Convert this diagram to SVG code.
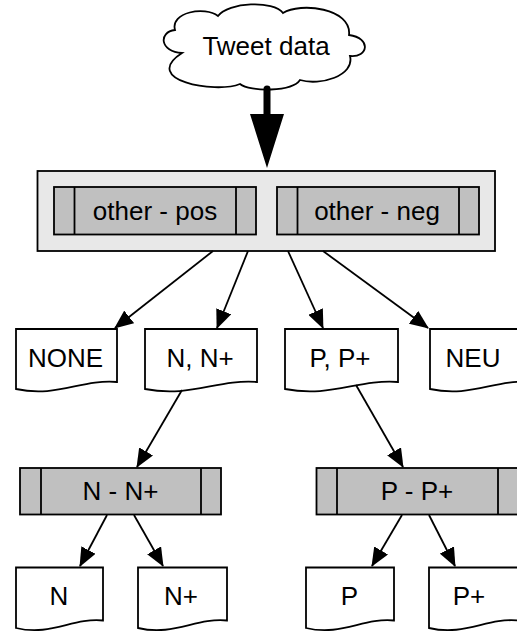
<svg xmlns="http://www.w3.org/2000/svg" width="517" height="634" viewBox="0 0 517 634">
  <defs>
    <style>
      .shape { stroke: #000; stroke-width: 1.8; stroke-linejoin: miter; }
      .doc { fill: #fff; }
      .proc { fill: #c0c0c0; }
      .container { fill: #e8e8e8; }
      .cloud { fill: #fff; }
      .div { stroke: #000; stroke-width: 1.8; fill: none; }
      .lbl { font-family: "Liberation Sans", Arial, Helvetica, sans-serif; font-size: 26px; fill: #000; text-anchor: middle; }
      .conn { stroke: #000; stroke-width: 1.8; fill: none; marker-end: url(#arrow); }
    </style>
    <marker id="arrow" viewBox="0 0 19 16" markerWidth="19" markerHeight="16" refX="18" refY="8" orient="auto" markerUnits="userSpaceOnUse">
      <path d="M0,0 L19,8 L0,16 Z" fill="#000"/>
    </marker>
  </defs>

  <g id="tweet-data">
    <path class="shape cloud" d="M175,30 C170,12 205,6 218,16 C228,2 274,0 283,13 C300,2 352,8 349,35 C372,38 368,58 350,56 C355,76 320,86 300,80 C292,92 250,92 240,84 C215,94 140,80 182,53 C160,52 158,32 175,30 Z"/>
    <text class="lbl" x="266" y="55">Tweet data</text>
  </g>

  <g id="classifier-other">
    <rect class="shape container" x="37.5" y="171" width="457.5" height="80"/>
  </g>

  <g id="other-pos">
    <rect class="shape proc" x="54" y="187" width="202" height="47.5"/>
    <line class="div" x1="74.5" y1="187" x2="74.5" y2="234.5"/>
    <line class="div" x1="236" y1="187" x2="236" y2="234.5"/>
    <text class="lbl" x="155" y="220">other - pos</text>
  </g>

  <g id="other-neg">
    <rect class="shape proc" x="277" y="187" width="202" height="47.5"/>
    <line class="div" x1="297.5" y1="187" x2="297.5" y2="234.5"/>
    <line class="div" x1="459" y1="187" x2="459" y2="234.5"/>
    <text class="lbl" x="377" y="220">other - neg</text>
  </g>

  <g id="none">
    <path class="shape doc" d="M16,329 H117 V382 C81.6,379 56.4,398 16,389 Z"/>
    <text class="lbl" x="65.5" y="366.5">NONE</text>
  </g>

  <g id="n-nplus">
    <path class="shape doc" d="M145,329 H257 V382 C217.8,379 189.8,398 145,389 Z"/>
    <text class="lbl" x="200" y="366.5">N, N+</text>
  </g>

  <g id="p-pplus">
    <path class="shape doc" d="M285,329 H398 V382 C358.5,379 330.2,398 285,389 Z"/>
    <text class="lbl" x="340" y="366.5">P, P+</text>
  </g>

  <g id="neu">
    <path class="shape doc" d="M430,329 H531 V382 C495.6,379 470.4,398 430,389 Z"/>
    <text class="lbl" x="473" y="366.5">NEU</text>
  </g>

  <g id="classifier-n">
    <rect class="shape proc" x="20" y="468" width="201" height="46.5"/>
    <line class="div" x1="41" y1="468" x2="41" y2="514.5"/>
    <line class="div" x1="201" y1="468" x2="201" y2="514.5"/>
    <text class="lbl" x="120.5" y="500">N - N+</text>
  </g>

  <g id="classifier-p">
    <rect class="shape proc" x="316.5" y="468" width="202" height="46.5"/>
    <line class="div" x1="337" y1="468" x2="337" y2="514.5"/>
    <line class="div" x1="498" y1="468" x2="498" y2="514.5"/>
    <text class="lbl" x="417" y="500">P - P+</text>
  </g>

  <g id="n">
    <path class="shape doc" d="M16,567.5 H103 V620.5 C72.5,617.5 50.8,636.5 16,628 Z"/>
    <text class="lbl" x="59" y="605">N</text>
  </g>

  <g id="nplus">
    <path class="shape doc" d="M138,567.5 H227 V620.5 C195.9,617.5 173.6,636.5 138,628 Z"/>
    <text class="lbl" x="181" y="605">N+</text>
  </g>

  <g id="p">
    <path class="shape doc" d="M306,567.5 H394 V620.5 C363.2,617.5 341.2,636.5 306,628 Z"/>
    <text class="lbl" x="349.5" y="605">P</text>
  </g>

  <g id="pplus">
    <path class="shape doc" d="M429,567.5 H518 V620.5 C486.9,617.5 464.6,636.5 429,628 Z"/>
    <text class="lbl" x="469" y="605">P+</text>
  </g>

  <g id="connectors">
    <path d="M263.5,114 V89 A3.5,3.5 0 0 1 270.5,89 V114 H284 L267,168 L250,114 Z" fill="#000"/>
    <line class="conn" x1="213" y1="251" x2="115" y2="328"/>
    <line class="conn" x1="248" y1="251" x2="217" y2="328"/>
    <line class="conn" x1="288" y1="251" x2="323" y2="328"/>
    <line class="conn" x1="323" y1="251" x2="428" y2="328"/>
    <line class="conn" x1="182" y1="390" x2="137" y2="467"/>
    <line class="conn" x1="356" y1="385" x2="403" y2="467"/>
    <line class="conn" x1="107" y1="515" x2="80" y2="566"/>
    <line class="conn" x1="134" y1="515" x2="163" y2="566"/>
    <line class="conn" x1="402" y1="515" x2="372" y2="566"/>
    <line class="conn" x1="429" y1="515" x2="455" y2="566"/>
  </g>
</svg>
